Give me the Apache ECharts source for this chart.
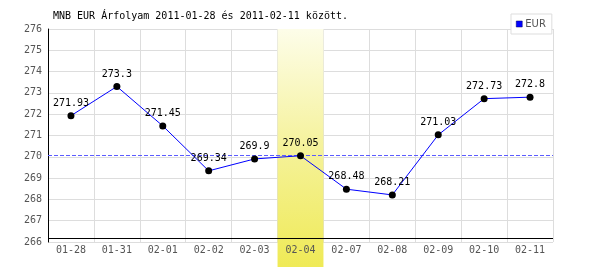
<!DOCTYPE html>
<html>
<head>
<meta charset="utf-8">
<script src="https://cdn.jsdelivr.net/npm/echarts@6/dist/echarts.min.js"></script>
<style>html,body{margin:0;padding:0;background:#fff}#c{width:600px;height:270px}</style>
</head>
<body>
<div id="c"></div>
<script>
const categories = ['01-28','01-31','02-01','02-02','02-03','02-04','02-07','02-08','02-09','02-10','02-11'];
const eurValues = [271.93, 273.3, 271.45, 269.34, 269.9, 270.05, 268.48, 268.21, 271.03, 272.73, 272.8];
const highlightDay = '02-04';
const yTicks = [266, 276, 1]; // min, max, interval
const titleText = 'MNB EUR Árfolyam 2011-01-28 és 2011-02-11 között.';
const seriesName = 'EUR';

const refValue = eurValues[categories.indexOf(highlightDay)];
const bandValues = categories.map(c => c === highlightDay ? 1 : '-');
const mono = 'DejaVu Sans Mono';

const chart = echarts.init(document.getElementById('c'), null, {renderer: 'canvas'});
const gridRect = {left: 48, right: 47, top: 29, bottom: 28};
const dashColor = '#5c5cff';
chart.setOption({
  animation: false,
  backgroundColor: '#fff',
  title: {
    text: titleText, left: 48, top: 11, padding: [0, 5],
    textStyle: {fontFamily: mono, fontSize: 10, fontWeight: 'normal', color: '#000'}
  },
  legend: {
    left: 511, top: 14, padding: [5, 6, 5, 5],
    borderColor: '#dddddd', borderWidth: 1, backgroundColor: '#fff',
    itemWidth: 6, itemHeight: 6, itemGap: 2,
    textStyle: {fontFamily: 'DejaVu Sans', fontSize: 10, color: '#555', padding: [0, 0, 0, -2]},
    data: [{name: seriesName, icon: 'rect', itemStyle: {color: '#0000ff', borderColor: '#000066', borderWidth: 0.5}}]
  },
  grid: [
    Object.assign({}, gridRect),
    {left: 48, right: 47, top: 29, bottom: 3},
    Object.assign({}, gridRect)
  ],
  xAxis: [
    {gridIndex: 0, type: 'category', data: categories, z: 3,
     axisLine: {show: false}, axisTick: {show: false}, splitLine: {show: false},
     axisLabel: {fontFamily: mono, fontSize: 10, color: '#555', margin: 3, interval: 0}},
    {gridIndex: 1, type: 'category', data: categories, show: false},
    {gridIndex: 2, type: 'category', data: categories, z: 0,
     axisLine: {show: false}, axisTick: {show: false}, axisLabel: {show: false},
     splitLine: {show: true, interval: 0, lineStyle: {color: '#dddddd', width: 1}}}
  ],
  yAxis: [
    {gridIndex: 0, type: 'value', min: yTicks[0], max: yTicks[1], interval: yTicks[2], z: 0,
     axisLine: {show: true, lineStyle: {color: '#000', width: 1}}, axisTick: {show: false},
     axisLabel: {fontFamily: mono, fontSize: 10, color: '#555', margin: 6},
     splitLine: {show: true, lineStyle: {color: '#dddddd', width: 1}}},
    {gridIndex: 1, type: 'value', min: 0, max: 1, show: false},
    {gridIndex: 2, type: 'value', min: yTicks[0], max: yTicks[1], show: false, splitLine: {show: false}}
  ],
  series: [
    {
      type: 'bar', xAxisIndex: 1, yAxisIndex: 1, data: bandValues, barWidth: '100%', z: 1,
      silent: true, legendHoverLink: false,
      itemStyle: {color: new echarts.graphic.LinearGradient(0, 0, 0, 1, [
        {offset: 0, color: '#fdfde9'}, {offset: 0.5, color: '#f5f29a'}, {offset: 1, color: '#efea56'}])}
    },
    {
      name: seriesName, type: 'line', xAxisIndex: 0, yAxisIndex: 0, data: eurValues, z: 4,
      symbol: 'circle', symbolSize: 7,
      itemStyle: {color: '#000'},
      lineStyle: {color: '#0000ff', width: 1},
      label: {show: true, position: 'top', distance: 4, fontFamily: mono, fontSize: 10, color: '#000'},
      markLine: {
        silent: true, symbol: 'none', label: {show: false}, z: 3,
        lineStyle: {color: dashColor, type: [4, 2], width: 1},
        data: [
          {yAxis: refValue, lineStyle: {color: dashColor}},
          {yAxis: 266.19, lineStyle: {color: '#000', type: 'solid', width: 1}}
        ]
      }
    }
  ]
});
</script>
</body>
</html>
